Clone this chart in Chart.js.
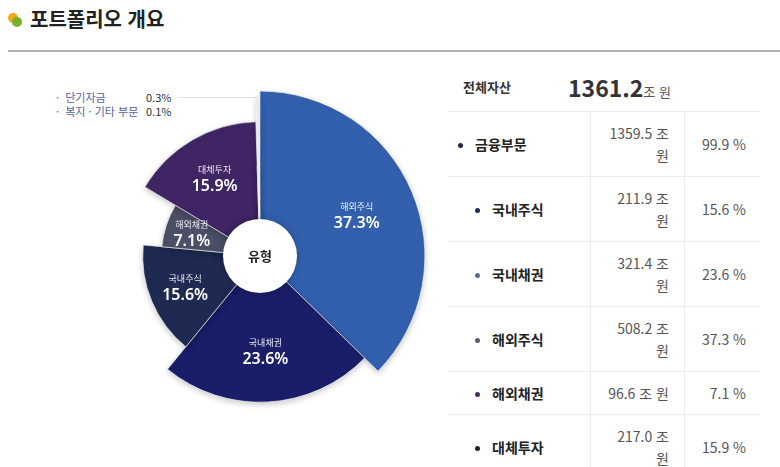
<!DOCTYPE html>
<html lang="ko">
<head>
  <meta charset="UTF-8" />
  <title>포트폴리오 개요</title>
  <script src="https://cdn.jsdelivr.net/npm/chart.js"></script>
  <style>
    body {
      margin: 0;
      width: 780px;
      height: 467px;
      overflow: hidden;
      background: #fff;
      font-family: "Noto Sans CJK KR", "Noto Sans", sans-serif;
      color: #222;
      position: relative;
    }
    #title {
      position: absolute;
      left: 30px;
      top: 5px;
      font-size: 20px;
      font-weight: 700;
      line-height: 28px;
      color: #222;
    }
    .dot { position: absolute; width: 10px; height: 10px; border-radius: 50%; }
    #rule {
      position: absolute;
      left: 8px; right: 0; top: 50px;
      height: 2px;
      background: #b4b4b4;
    }
    #chartBox {
      position: absolute;
      left: 90px; top: 86px;
      width: 340px; height: 340px;
    }
    #miniLegend {
      position: absolute;
      left: 56px; top: 90px;
      font-size: 11px;
      line-height: 14px;
    }
    #miniLegend .row { position: relative; height: 14px; width: 120px; }
    #miniLegend .nm { position: absolute; left: 0; color: #5463a3; white-space: nowrap; }
    #miniLegend .pc { position: absolute; left: 90px; color: #333; }
    #leader {
      position: absolute;
      left: 178px; top: 97px;
      width: 78px; height: 1px;
      background: #e2e2e2;
    }
    #total {
      position: absolute;
      left: 463px; top: 70px;
      width: 300px;
      height: 34px;
    }
    #total .lbl { position: absolute; left: 0; top: 7px; font-size: 13px; font-weight: 700; color: #333; }
    #total .num { position: absolute; left: 105px; top: 0; font-size: 23px; font-weight: 700; color: #333; }
    #total .unit { font-size: 13px; font-weight: 400; color: #555; }
    table {
      position: absolute;
      left: 448px; top: 111px;
      width: 312px;
      border-collapse: collapse;
      font-size: 14px;
    }
    td {
      border-top: 1px solid #ececec;
      padding: 10px 0;
      line-height: 22px;
      vertical-align: middle;
    }
    td.name { width: 142px; font-weight: 700; color: #222; border-right: 1px solid #ececec; }
    td.amt { width: 78px; text-align: right; padding-right: 15px; color: #555; border-right: 1px solid #ececec; }
    td.pct { text-align: right; padding-right: 14px; color: #555; }
    .bullet { display: inline-block; width: 5px; height: 5px; border-radius: 50%; vertical-align: middle; margin-right: 12px; position: relative; top: -1px; }
  </style>
</head>
<body>
  <div class="dot" style="left:8px;top:13px;background:#f2a51f;"></div>
  <div class="dot" style="left:12px;top:17px;background:#6db024;opacity:0.95;"></div>
  <div id="title">포트폴리오 개요</div>
  <div id="rule"></div>

  <div id="miniLegend"></div>
  <div id="leader"></div>
  <div id="chartBox"><canvas id="grafica"></canvas></div>

  <div id="total"></div>
  <table id="tabla"></table>

  <script>
    // pie: slice order clockwise from 12 o'clock
    const sliceNames = ['해외주식', '국내채권', '국내주식', '해외채권', '대체투자', '복지 · 기타 부문', '단기자금'];
    const sliceShares = [37.3, 23.6, 15.6, 7.1, 15.9, 0.1, 0.3];
    // relative slice length (0-100) as drawn in the picture
    const sliceLength = [97, 86, 69, 58, 79, 53, 94];
    const sliceColors = ['#3360ad', '#1a1e68', '#1f2a52', '#4b4f67', '#3f2564', '#151515', '#e9edf3'];

    // right-hand table
    const totalAssets = 1361.2;
    const rowNames = ['금융부문', '국내주식', '국내채권', '해외주식', '해외채권', '대체투자'];
    const rowAmounts = [1359.5, 211.9, 321.4, 508.2, 96.6, 217.0];
    const rowShares = [99.9, 15.6, 23.6, 37.3, 7.1, 15.9];
    const rowBullets = ['#1f2550', '#1e2a5c', '#5b6b9e', '#5d5d6b', '#4a2d6e', '#222'];

    // small legend (shares under 1%)
    const mini = sliceNames.map((n, i) => ({ n, v: sliceShares[i] }))
      .filter(d => d.v < 1).sort((a, b) => b.v - a.v);
    document.getElementById('miniLegend').innerHTML = mini.map(d =>
      `<div class="row"><span class="nm">·&nbsp; ${d.n}</span><span class="pc">${d.v.toFixed(1)}%</span></div>`
    ).join('');

    document.getElementById('total').innerHTML =
      `<span class="lbl">전체자산</span><span class="num">${totalAssets.toFixed(1)}<span class="unit">조 원</span></span>`;

    document.getElementById('tabla').innerHTML = rowNames.map((n, i) => {
      const indent = i === 0 ? 10 : 27;
      const amt = rowAmounts[i] >= 100 ? `${rowAmounts[i].toFixed(1)} 조<br>원` : `${rowAmounts[i].toFixed(1)} 조 원`;
      return `<tr><td class="name"><span class="bullet" style="margin-left:${indent}px;background:${rowBullets[i]}"></span>${n}</td>` +
        `<td class="amt">${amt}</td><td class="pct">${rowShares[i].toFixed(1)} %</td></tr>`;
    }).join('');

    const holeRadius = 37;

    const shadowPlugin = {
      id: 'sombra',
      beforeDatasetsDraw(chart) {
        const c = chart.ctx;
        c.save();
        c.shadowColor = 'rgba(0,0,0,0.22)';
        c.shadowBlur = 6;
        c.shadowOffsetY = 2;
      },
      afterDatasetsDraw(chart) {
        chart.ctx.restore();
      }
    };

    const centerPlugin = {
      id: 'centro',
      afterDatasetsDraw(chart) {
        const c = chart.ctx;
        const scale = chart.scales.r;
        const cx = scale.xCenter, cy = scale.yCenter;
        const arcs = chart.getDatasetMeta(0).data;

        c.save();
        c.textAlign = 'center';
        c.textBaseline = 'middle';
        c.fillStyle = '#fff';
        arcs.forEach((arc, i) => {
          if (sliceShares[i] < 5) return;
          const mid = (arc.startAngle + arc.endAngle) / 2;
          const r = (holeRadius + arc.outerRadius) / 2 + 4;
          const x = cx + r * Math.cos(mid);
          const y = cy + r * Math.sin(mid);
          c.fillStyle = 'rgba(255,255,255,0.9)';
          c.font = '9px "Noto Sans CJK KR", sans-serif';
          c.fillText(sliceNames[i], x, y - 9);
          c.fillStyle = '#fff';
          c.font = '600 16px "Noto Sans", "Noto Sans CJK KR", sans-serif';
          c.fillText(sliceShares[i].toFixed(1) + '%', x, y + 8);
        });

        c.shadowColor = 'rgba(0,0,0,0.25)';
        c.shadowBlur = 8;
        c.beginPath();
        c.arc(cx, cy, holeRadius, 0, Math.PI * 2);
        c.fillStyle = '#fff';
        c.fill();
        c.shadowBlur = 0;
        c.shadowColor = 'transparent';
        c.fillStyle = '#222';
        c.font = '700 13px "Noto Sans CJK KR", sans-serif';
        c.fillText('유형', cx, cy);
        c.restore();
      }
    };

    new Chart(document.getElementById('grafica').getContext('2d'), {
      type: 'polarArea',
      data: {
        labels: sliceNames,
        datasets: [{
          data: sliceLength,
          backgroundColor: sliceColors,
          borderColor: 'rgba(255,255,255,0.6)',
          borderWidth: 1,
          angle: ctx => sliceShares[ctx.dataIndex] * 3.6
        }]
      },
      options: {
        responsive: true,
        maintainAspectRatio: false,
        animation: false,
        layout: { padding: 0 },
        scales: {
          r: { display: false, min: 0, max: 100, startAngle: 0 }
        },
        plugins: {
          legend: { display: false },
          tooltip: { enabled: false }
        }
      },
      plugins: [shadowPlugin, centerPlugin]
    });
  </script>
</body>
</html>
